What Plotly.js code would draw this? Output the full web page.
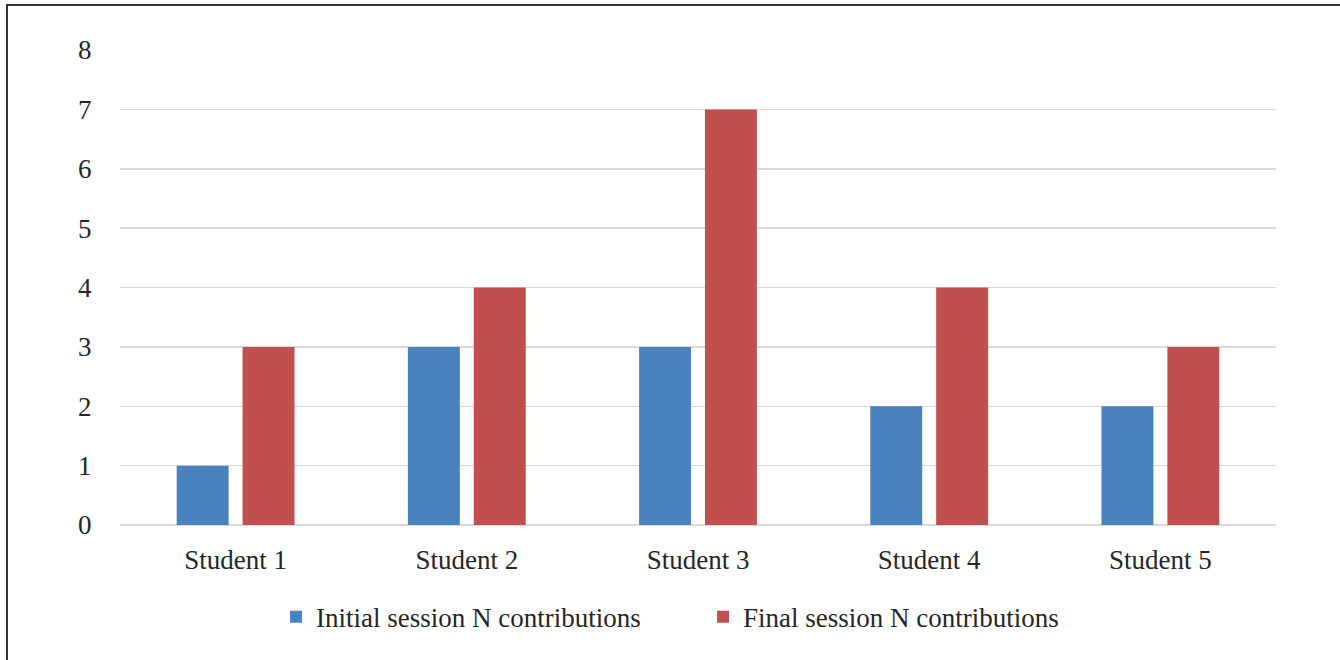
<!DOCTYPE html>
<html>
<head>
<meta charset="utf-8">
<script src="https://cdn.plot.ly/plotly-3.0.1.min.js"></script>
<style>
  html, body { margin: 0; padding: 0; overflow: hidden; background: #fff; }
  #chart { width: 1340px; height: 660px; }
  #frame { position: absolute; left: 6px; top: 4px; width: 2000px; height: 2000px;
           border-left: 2px solid #333; border-top: 2px solid #333; pointer-events: none; }
</style>
</head>
<body>
<div id="chart"></div>
<div id="frame"></div>
<script>
const categories = ['Student 1', 'Student 2', 'Student 3', 'Student 4', 'Student 5'];
const initialSession = [1, 3, 3, 2, 2];
const finalSession = [3, 4, 7, 4, 3];
const seriesNames = ['Initial session N contributions', 'Final session N contributions'];
const yTicks = [0, 1, 2, 3, 4, 5, 6, 7, 8];

const font = { family: 'Liberation Serif, serif', size: 27, color: '#262626' };

const data = [
  { type: 'bar', x: categories, y: initialSession, name: seriesNames[0],
    marker: { color: '#4a81bf' }, hoverinfo: 'none' },
  { type: 'bar', x: categories, y: finalSession, name: seriesNames[1],
    marker: { color: '#c0504d' }, hoverinfo: 'none' }
];

const layout = {
  width: 1340, height: 660,
  margin: { l: 120, r: 64, t: 50, b: 135 },
  paper_bgcolor: '#fff', plot_bgcolor: '#fff',
  font: font,
  barmode: 'group', bargap: 0.43, bargroupgap: 0.212,
  showlegend: true,
  legend: { orientation: 'h', x: 0.135, xanchor: 'left', y: -0.194, yanchor: 'middle',
            font: font, itemwidth: 30, entrywidth: 382, traceorder: 'normal' },
  xaxis: { type: 'category', showgrid: false, zeroline: false, showline: false,
           ticks: 'outside', ticklen: 11, tickcolor: 'rgba(0,0,0,0)', tickfont: font },
  yaxis: { range: [0, 8], tickvals: yTicks, showgrid: true, gridcolor: '#d9d9d9', gridwidth: 1.5,
           zeroline: true, zerolinecolor: '#d9d9d9', zerolinewidth: 1.5, showline: false,
           ticks: 'outside', ticklen: 22, tickcolor: 'rgba(0,0,0,0)', tickfont: font }
};

Plotly.newPlot('chart', data, layout, { displayModeBar: false, staticPlot: true });
</script>
</body>
</html>
